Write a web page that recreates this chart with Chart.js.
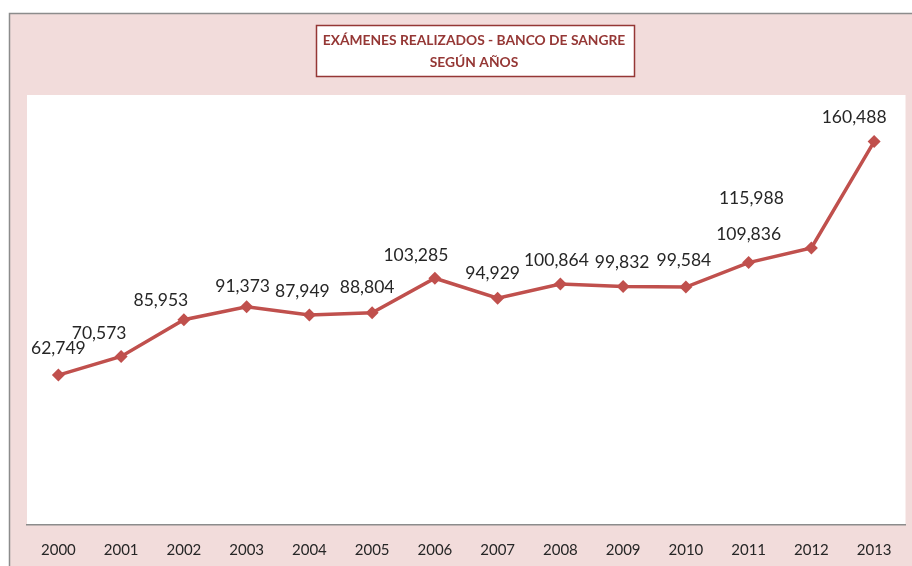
<!DOCTYPE html>
<html>
<head>
<meta charset="utf-8">
<script src="https://cdn.jsdelivr.net/npm/chart.js@4/dist/chart.umd.min.js"></script>
<style>
html,body{margin:0;padding:0;background:#fff;}
#wrap{width:912px;height:566px;position:relative;}
</style>
</head>
<body>
<div id="wrap"><canvas id="c" width="912" height="566"></canvas></div>
<script>
const years = ['2000','2001','2002','2003','2004','2005','2006','2007','2008','2009','2010','2011','2012','2013'];
const exams = [62749,70573,85953,91373,87949,88804,103285,94929,100864,99832,99584,109836,115988,160488];
const titleLines = ['EXÁMENES REALIZADOS - BANCO DE SANGRE','SEGÚN AÑOS'];

const labelShift = [[0,-27],[-22,-23],[-23,-19],[-4,-20],[-7,-24],[-5,-25],[-19,-23],[-5,-25],[-4,-24],[-1,-24],[-2,-27],[0,-28],[-60,-50],[-20,-24]];

const frame = {
  id:'frame',
  beforeDraw(chart){
    const ctx = chart.ctx, a = chart.chartArea;
    ctx.save();
    ctx.fillStyle = '#ffffff';
    ctx.fillRect(0,0,chart.width,chart.height);
    ctx.fillStyle = '#f2dcdb';
    ctx.fillRect(9,13,chart.width-9,chart.height-13);
    ctx.strokeStyle = '#8c8c8c';
    ctx.lineWidth = 1.5;
    ctx.beginPath();
    ctx.moveTo(9.5,chart.height);
    ctx.lineTo(9.5,13.5);
    ctx.lineTo(chart.width,13.5);
    ctx.stroke();
    ctx.fillStyle = '#ffffff';
    ctx.fillRect(a.left,a.top,a.right-a.left,a.bottom-a.top);
    ctx.restore();
  },
  afterDraw(chart){
    const ctx = chart.ctx;
    ctx.save();
    ctx.fillStyle = '#ffffff';
    ctx.fillRect(316,25,319,52);
    ctx.strokeStyle = '#953735';
    ctx.lineWidth = 1.5;
    ctx.strokeRect(316.5,25.5,318,51);
    ctx.fillStyle = '#953735';
    ctx.font = 'bold 13.8px Lato';
    ctx.textAlign = 'center';
    ctx.textBaseline = 'middle';
    ctx.fillText(titleLines[0],474,41);
    ctx.fillText(titleLines[1],474,63);
    const meta = chart.getDatasetMeta(0);
    ctx.fillStyle = '#262626';
    ctx.font = '17.5px Lato';
    meta.data.forEach((p,i)=>{
      const v = exams[i].toLocaleString('en-US');
      ctx.fillText(v, p.x + labelShift[i][0], p.y + labelShift[i][1]);
    });
    ctx.restore();
  }
};

new Chart(document.getElementById('c'),{
  type:'line',
  data:{
    labels:years,
    datasets:[{
      data:exams,
      borderColor:'#c0504d',
      backgroundColor:'#c0504d',
      borderWidth:3.5,
      pointStyle:'rectRot',
      pointRadius:6.5,
      pointBorderWidth:0,
      tension:0,
      fill:false
    }]
  },
  options:{
    responsive:false,
    animation:false,
    layout:{padding:{left:27,right:5,top:95,bottom:0}},
    plugins:{legend:{display:false},tooltip:{enabled:false},title:{display:false}},
    scales:{
      x:{
        offset:true,
        grid:{display:false,drawTicks:false},
        border:{display:true,color:'#8c8c8c',width:1.5},
        ticks:{color:'#262626',font:{family:'Lato',size:15},padding:16,maxRotation:0,autoSkip:false},
        afterFit(s){ s.height = 41; }
      },
      y:{
        display:false,
        min:0,max:180000
      }
    }
  },
  plugins:[frame]
});
</script>
</body>
</html>
